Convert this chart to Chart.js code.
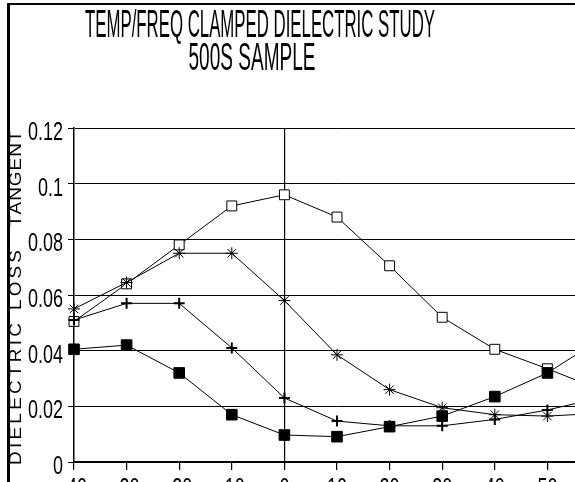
<!DOCTYPE html>
<html>
<head>
<meta charset="utf-8">
<style>
  html, body { margin: 0; padding: 0; background: #fff; overflow: hidden; }
  #chart { display: block; }
</style>
<script src="https://cdn.jsdelivr.net/npm/chart.js"></script>
</head>
<body>
<canvas id="chart" width="640" height="505"></canvas>
<script>
// data
const temps = [-40, -30, -20, -10, 0, 10, 20, 30, 40, 50, 60];
const openSquares = [0.0505, 0.064, 0.078, 0.092, 0.096, 0.088, 0.0705, 0.052, 0.0405, 0.0335, 0.026];
const stars = [0.055, 0.0645, 0.075, 0.075, 0.058, 0.0385, 0.026, 0.0195, 0.017, 0.0165, 0.0175];
const crosses = [0.051, 0.057, 0.057, 0.041, 0.023, 0.0147, 0.013, 0.013, 0.0153, 0.0187, 0.023];
const filledSquares = [0.0405, 0.042, 0.032, 0.017, 0.0097, 0.0091, 0.0127, 0.0165, 0.0235, 0.032, 0.044];

const xTickLabels = ['-40', '-30', '-20', '-10', '0', '10', '20', '30', '40', '50', '60'];
const yTickLabels = ['0', '0.02', '0.04', '0.06', '0.08', '0.1', '0.12'];

const titleLines = ['TEMP/FREQ CLAMPED DIELECTRIC STUDY', '500S SAMPLE'];
const yTitleWords = ['DIELECTRIC', 'LOSS', 'TANGENT'];

const FONT = '"Liberation Sans", Arial, sans-serif';

const toPoints = arr => temps.map((t, i) => ({ x: t, y: arr[i] }));

function series(data, style, radius, fill, width, order) {
	return {
		data: toPoints(data),
		borderColor: '#000',
		borderWidth: 1,
		pointStyle: style,
		pointRadius: radius,
		pointBackgroundColor: fill,
		pointBorderColor: '#000',
		pointBorderWidth: width,
		tension: 0,
		clip: false,
		order: order
	};
}

// text squeezed sideways, like the plotter font
function squeezed(ctx, text, x, y, sx, align) {
	ctx.save();
	ctx.translate(x, y);
	ctx.scale(sx, 1);
	ctx.textAlign = align;
	ctx.fillText(text, 0, 0);
	ctx.restore();
}

const decor = {
	id: 'decor',
	beforeDraw(chart) {
		const ctx = chart.ctx;
		ctx.save();
		ctx.fillStyle = '#fff';
		ctx.fillRect(0, 0, chart.width, chart.height);
		ctx.restore();
	},
	afterDraw(chart) {
		const ctx = chart.ctx;
		ctx.save();
		ctx.fillStyle = '#000';
		ctx.textBaseline = 'alphabetic';

		// frame
		ctx.fillRect(7, 3, 3, chart.height);
		ctx.fillRect(7, 3, chart.width, 2);

		// title
		ctx.font = '38px ' + FONT;
		squeezed(ctx, titleLines[0], 260, 37, 350 / ctx.measureText(titleLines[0]).width, 'center');
		squeezed(ctx, titleLines[1], 252, 70, 127 / ctx.measureText(titleLines[1]).width, 'center');

		// tick labels
		ctx.font = '25px ' + FONT;
		const ys = chart.scales.y, xs = chart.scales.x;
		ys.ticks.forEach((t, i) => {
			squeezed(ctx, yTickLabels[i], ys.left + ys.width - 11, ys.getPixelForValue(t.value) + 12, 0.72, 'right');
		});
		xs.ticks.forEach((t, i) => {
			squeezed(ctx, xTickLabels[i], xs.getPixelForValue(t.value), xs.top + 34, 0.72, 'center');
		});

		// y title, each word spread over its stretch of the axis
		ctx.font = '16.5px ' + FONT;
		ctx.textAlign = 'left';
		const spans = [[465, 323], [310, 250], [227, 132]];
		yTitleWords.forEach((word, k) => {
			const len = spans[k][0] - spans[k][1];
			const w0 = ctx.measureText(word).width * 1.15;
			const gap = Math.max(0, (len - w0) / (word.length - 1));
			ctx.save();
			ctx.translate(21, spans[k][0]);
			ctx.rotate(-Math.PI / 2);
			let x = 0;
			for (const ch of word) {
				squeezed(ctx, ch, x, 0, 1.15, 'left');
				x += ctx.measureText(ch).width * 1.15 + gap;
			}
			ctx.restore();
		});
		ctx.restore();
	}
};

new Chart(document.getElementById('chart'), {
	type: 'line',
	data: {
		datasets: [
			series(openSquares, 'rect', 7, '#fff', 1, 3),
			series(stars, 'star', 6, '#fff', 1, 2),
			series(crosses, 'cross', 5.5, '#fff', 2, 1),
			series(filledSquares, 'rect', 7.5, '#000', 1, 0)
		]
	},
	options: {
		responsive: false,
		animation: false,
		layout: { padding: { top: 128, left: 0, right: 40, bottom: 0 } },
		plugins: {
			legend: { display: false },
			title: { display: false },
			tooltip: { enabled: false }
		},
		scales: {
			x: {
				type: 'linear',
				min: -40,
				max: 60,
				afterFit: s => { s.height = 43; },
				border: { display: true, color: '#000', width: 1.5 },
				grid: {
					color: c => (c.tick && c.tick.value === 0) ? '#000' : 'rgba(0,0,0,0)',
					tickColor: '#000',
					tickLength: 8,
					lineWidth: 1.2
				},
				ticks: { display: false, stepSize: 10, autoSkip: false }
			},
			y: {
				min: 0,
				max: 0.12,
				afterFit: s => { s.width = 74; },
				border: { display: true, color: '#000', width: 1.5 },
				grid: {
					color: '#000',
					tickColor: '#000',
					tickLength: 6,
					lineWidth: 1
				},
				ticks: { display: false, stepSize: 0.02 }
			}
		}
	},
	plugins: [decor]
});
</script>
</body>
</html>
